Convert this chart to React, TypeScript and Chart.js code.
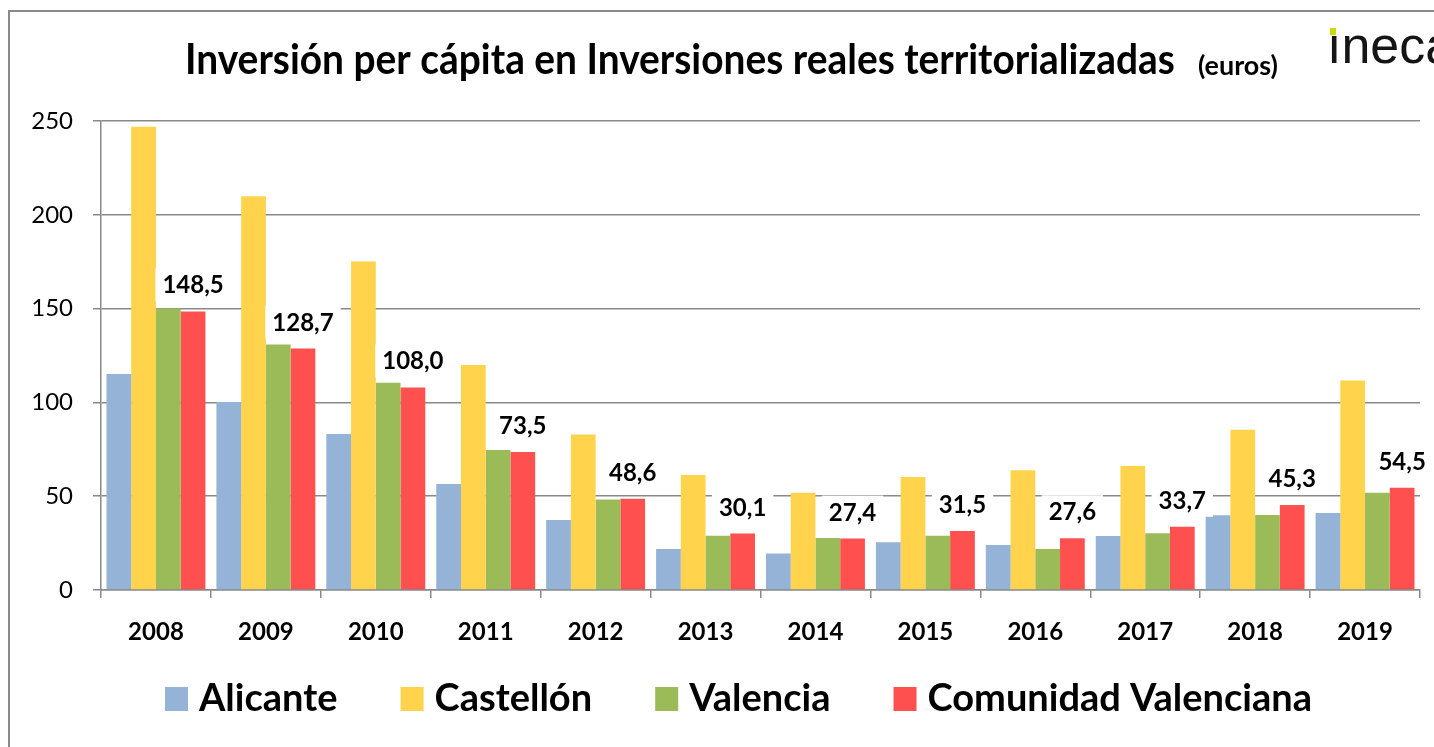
import React, { useEffect, useRef } from "react";
import { Chart, registerables } from "chart.js";

Chart.register(...registerables);

const years = ["2008", "2009", "2010", "2011", "2012", "2013", "2014", "2015", "2016", "2017", "2018", "2019"];
const seriesNames = ["Alicante", "Castellón", "Valencia", "Comunidad Valenciana"];
const alicante = [115.1, 100.2, 83.1, 56.5, 37.3, 21.8, 19.5, 25.4, 24.0, 28.8, 39.8, 41.0];
const castellon = [247.0, 209.9, 175.1, 119.9, 82.9, 61.3, 51.8, 60.2, 63.8, 66.1, 85.4, 111.7];
const valencia = [150.1, 130.9, 110.5, 74.6, 48.3, 28.9, 27.7, 28.9, 21.8, 30.2, 40.0, 51.8];
const comunidad = [148.5, 128.7, 108.0, 73.5, 48.6, 30.1, 27.4, 31.5, 27.6, 33.7, 45.3, 54.5];
const seriesColors = ["#95B3D7", "#FFD34B", "#9BBB59", "#FF5050"];
const yMin = 0;
const yMax = 250;
const yStep = 50;
const titleMain = "Inversión per cápita en Inversiones reales territorializadas";
const titleUnit = "(euros)";
const logoText = "\u0131neca";

const FONT = "Lato";
const GRID = "#898989";

const fmt = (v: number) => v.toFixed(1).replace(".", ",");

const decorPlugin = {
  id: "decor",
  beforeDraw(chart: any) {
    const ctx = chart.ctx as CanvasRenderingContext2D;
    ctx.save();
    ctx.fillStyle = "#ffffff";
    ctx.fillRect(0, 0, chart.width, chart.height);
    // frame
    ctx.strokeStyle = GRID;
    ctx.lineWidth = 2;
    ctx.beginPath();
    ctx.moveTo(9, chart.height);
    ctx.lineTo(9, 11);
    ctx.lineTo(chart.width, 11);
    ctx.stroke();
    // title
    ctx.fillStyle = "#000";
    ctx.textBaseline = "alphabetic";
    ctx.textAlign = "left";
    ctx.font = `bold 40px ${FONT}`;
    const w0 = ctx.measureText(titleMain).width;
    const size = (40 * 990) / w0;
    ctx.save();
    ctx.translate(185, 74);
    ctx.scale(1, 1.06);
    ctx.font = `bold ${size}px ${FONT}`;
    ctx.fillText(titleMain, 0, 0);
    ctx.restore();
    ctx.font = `bold 20px ${FONT}`;
    const wu = ctx.measureText(titleUnit).width;
    const su = (20 * 80) / wu;
    ctx.font = `bold ${su}px ${FONT}`;
    ctx.fillText(titleUnit, 1198, 75);
    // logo
    ctx.font = `52px "Liberation Sans"`;
    ctx.fillStyle = "#151515";
    ctx.fillText(logoText, 1327, 63);
    ctx.fillStyle = "#C9DD00";
    ctx.fillRect(1330, 28, 6, 7);
    ctx.restore();
  },
  afterDatasetsDraw(chart: any) {
    const ctx = chart.ctx as CanvasRenderingContext2D;
    const meta = chart.getDatasetMeta(3);
    ctx.save();
    ctx.font = `bold 24px ${FONT}`;
    ctx.textAlign = "center";
    ctx.textBaseline = "alphabetic";
    meta.data.forEach((bar: any, i: number) => {
      const txt = fmt(comunidad[i]);
      const w = ctx.measureText(txt).width;
      const x = bar.x;
      const base = bar.y - 18;
      const capH = 17;
      ctx.fillStyle = "#ffffff";
      ctx.fillRect(x - w / 2 - 7, base - capH - 8, w + 14, capH + 16);
      ctx.fillStyle = "#000000";
      ctx.fillText(txt, x, base);
    });
    ctx.restore();
  },
  afterDraw(chart: any) {
    const ctx = chart.ctx as CanvasRenderingContext2D;
    ctx.save();
    ctx.font = `bold 38px ${FONT}`;
    const box = 23;
    const gap = 11;
    const widths = seriesNames.map((n) => ctx.measureText(n).width);
    const span = 1312 - 165;
    const itemsW = widths.reduce((a, b) => a + b + box + gap, 0);
    const itemGap = (span - itemsW) / (seriesNames.length - 1);
    let x = 165;
    const cy = 699;
    ctx.textAlign = "left";
    ctx.textBaseline = "alphabetic";
    seriesNames.forEach((n, i) => {
      ctx.fillStyle = seriesColors[i];
      ctx.fillRect(x, cy - 12, box, 24);
      ctx.fillStyle = "#000";
      ctx.fillText(n, x + box + gap, 711);
      x += box + gap + widths[i] + itemGap;
    });
    ctx.restore();
  },
};

export default function App() {
  const ref = useRef<HTMLCanvasElement>(null);
  useEffect(() => {
    if (!ref.current) return;
    const seriesValues = [alicante, castellon, valencia, comunidad];
    const chart = new Chart(ref.current, {
      type: "bar",
      data: {
        labels: years,
        datasets: seriesNames.map((name, i) => ({
          label: name,
          data: seriesValues[i],
          backgroundColor: seriesColors[i],
          borderWidth: 0,
          barPercentage: 1,
          categoryPercentage: 0.9,
        })),
      },
      options: {
        animation: false,
        responsive: false,
        maintainAspectRatio: false,
        layout: { padding: { top: 121, right: 14, bottom: 100, left: 0 } },
        plugins: {
          legend: { display: false },
          title: { display: false },
          tooltip: { enabled: false },
        },
        scales: {
          x: {
            grid: {
              display: true,
              drawOnChartArea: false,
              drawTicks: true,
              tickLength: 8,
              color: GRID,
              lineWidth: 1.5,
              offset: true,
            },
            border: { display: true, color: GRID, width: 1.5 },
            ticks: {
              font: { family: FONT, size: 24, weight: "bold" },
              color: "#000",
              padding: 20,
              maxRotation: 0,
              autoSkip: false,
            },
            afterFit: (s: any) => {
              s.height = 57;
            },
          },
          y: {
            min: yMin,
            max: yMax,
            ticks: {
              stepSize: yStep,
              font: { family: FONT, size: 24 },
              color: "#000",
              padding: 20,
            },
            grid: { color: GRID, lineWidth: 1.5, tickLength: 8 },
            border: { display: true, color: GRID, width: 1.5 },
            afterFit: (s: any) => {
              s.width = 101;
            },
          },
        },
      } as any,
      plugins: [decorPlugin],
    });
    return () => chart.destroy();
  }, []);
  return (
    <div style={{ position: "fixed", left: 0, top: 0, width: 1434, height: 747, background: "#fff" }}>
      <canvas ref={ref} width={1434} height={747} style={{ display: "block", width: 1434, height: 747 }} />
    </div>
  );
}
